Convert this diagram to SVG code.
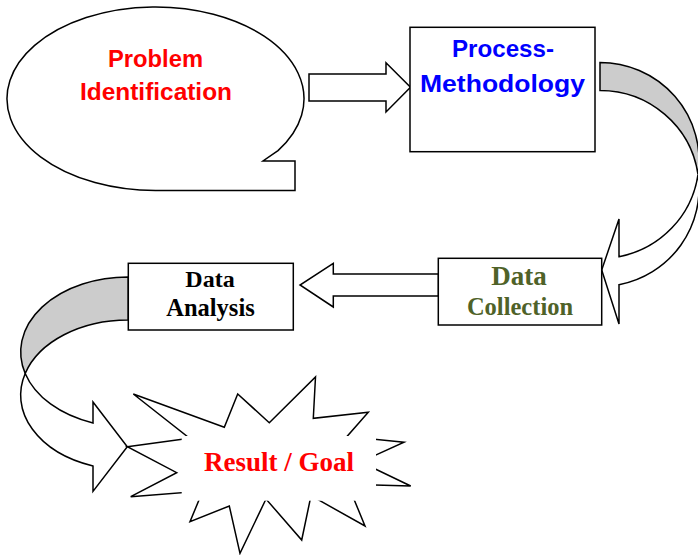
<svg xmlns="http://www.w3.org/2000/svg" width="698" height="555" viewBox="0 0 698 555">
  <style>
    .shape { fill: #ffffff; stroke: #000000; stroke-width: 1.5; stroke-linejoin: miter; }
    .back { fill: #cccccc; stroke: #000000; stroke-width: 1.5; }
    .sans { font-family: "Liberation Sans", Arial, sans-serif; font-weight: bold; font-size: 24px; text-anchor: middle; }
    .serif { font-family: "Liberation Serif", "Times New Roman", serif; font-weight: bold; text-anchor: middle; }
  </style>
  <rect x="0" y="0" width="698" height="555" fill="#ffffff"/>

  <!-- connectors: block arrows and curved ribbon arrows -->
  <g id="connectors">
    <!-- Problem Identification -> Process-Methodology -->
    <path class="shape" d="M309,74 L386,74 L386,62.7 L410.5,87.3 L386,112 L386,101 L309,101 Z"/>
    <!-- Process-Methodology -> Data Collection (curved, twisting ribbon) -->
    <path class="back" d="M600,62.5 A99 98 0 0 1 698,174.5 A99 98 0 0 0 600,90.5 Z"/>
    <path class="shape" d="M698,174.5 A99 98 0 0 1 619,256.7 L619,219 L601.7,270 L619,324 L619,284.7 A99 98 0 0 0 698,174.5 Z"/>
    <!-- Data Collection -> Data Analysis -->
    <path class="shape" d="M438.5,274 L333.3,274 L333.3,263.3 L300,285 L333.3,307 L333.3,296 L438.5,296 Z"/>
    <!-- Data Analysis -> Result / Goal (curved, twisting ribbon) -->
    <path class="back" d="M128.3,277 A107.3 75 0 0 0 25.2,373.5 A107.3 75 0 0 1 128.3,320 Z"/>
    <path class="shape" d="M25.2,373.5 A107.3 75 0 0 0 93,423 L93,402 L127.3,446.7 L93,491.4 L93,466 A107.3 75 0 0 1 25.2,373.5 Z"/>
  </g>

  <!-- callout bubble -->
  <g id="node-problem">
    <path class="shape" d="M278,150.6 A148.5 91.75 0 1 0 155.5,190.5 L295,190.5 L295,161 L263,161 Z"/>
    <text class="sans" x="155.5" y="67" fill="#ff0000" textLength="95" lengthAdjust="spacingAndGlyphs">Problem</text>
    <text class="sans" x="156" y="100" fill="#ff0000" textLength="152" lengthAdjust="spacingAndGlyphs">Identification</text>
  </g>

  <g id="node-process">
    <rect class="shape" x="410" y="27.3" width="185" height="124.4"/>
    <text class="sans" x="503" y="57" fill="#0000ff" textLength="102" lengthAdjust="spacingAndGlyphs">Process-</text>
    <text class="sans" x="502.5" y="92" fill="#0000ff" textLength="165" lengthAdjust="spacingAndGlyphs">Methodology</text>
  </g>

  <g id="node-collection">
    <rect class="shape" x="438.3" y="258.3" width="163.4" height="66.7"/>
    <text class="serif" x="519" y="285" font-size="27" fill="#4f6228">Data</text>
    <text class="serif" x="520" y="315" font-size="24.5" fill="#4f6228">Collection</text>
  </g>

  <g id="node-analysis">
    <rect class="shape" x="128.3" y="263.3" width="165" height="66.7"/>
    <text class="serif" x="210" y="286.7" font-size="24" fill="#000000">Data</text>
    <text class="serif" x="210.5" y="316" font-size="24.5" fill="#000000">Analysis</text>
  </g>

  <!-- explosion shape with its white text frame on top -->
  <g id="node-result">
    <polygon class="shape" points="127.3,446.7 189.5,438.2 133.3,394 224.3,427.3 237.7,394 269.3,422.7 315.5,377 313.3,418.3 368.3,412.3 347,436.5 404,442.3 360.7,461.9 410.7,486 347.8,484.2 365,526 311,495.7 301.7,540 266,499 240,553.3 229.3,506 190,521.7 202.7,491 130.7,496.7 176.7,472.7"/>
    <rect x="181.7" y="436" width="194.3" height="64.7" fill="#ffffff"/>
    <text class="serif" x="279" y="470.7" font-size="27" fill="#ff0000">Result / Goal</text>
  </g>
</svg>
